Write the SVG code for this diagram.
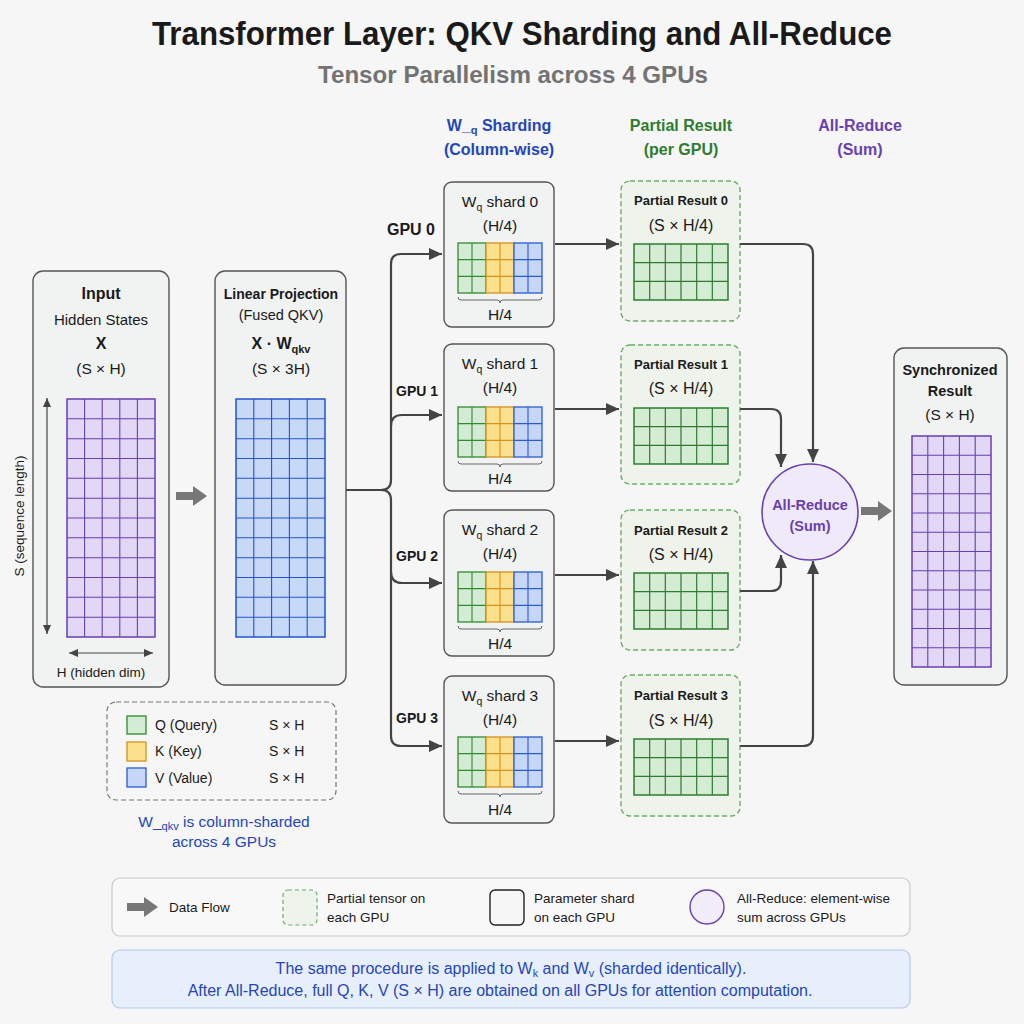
<svg xmlns="http://www.w3.org/2000/svg" width="1024" height="1024" viewBox="0 0 1024 1024">
<style>
text{font-family:"Liberation Sans",Arial,sans-serif;fill:#1a1a1a}
.b{font-weight:bold}
.c{text-anchor:middle}
.t14{font-size:14px}
.t15{font-size:15.5px}
.t13{font-size:13.5px}
.box{fill:#f1f2f2;stroke:#555;stroke-width:1.4}
.pbox{fill:#eef3ec;stroke:#6aae6a;stroke-width:1.4;stroke-dasharray:5 3}
.conn{fill:none;stroke:#444;stroke-width:2.2}
.thin{fill:none;stroke:#444;stroke-width:1.2}
.fat{fill:#777}
.blue{fill:#2546b8}
.green{fill:#2e7d2e}
.purple{fill:#6a3fb0}
</style>
<defs>
<marker id="ah" markerUnits="userSpaceOnUse" markerWidth="13" markerHeight="12" refX="13" refY="6" orient="auto">
<path d="M0,0 L13,6 L0,12 z" fill="#444"/>
</marker>
<marker id="sa" markerUnits="userSpaceOnUse" markerWidth="9" markerHeight="8" refX="9" refY="4" orient="auto-start-reverse">
<path d="M0,0 L9,4 L0,8 z" fill="#444"/>
</marker>
<path id="fatarrow" d="M0,-4 H17 V-10 L31,0 L17,10 V4 H0 Z"/>
<g id="shardgrid">
<rect x="0" y="0" width="28" height="50" fill="#d4ebd4" stroke="#2e8b2e" stroke-width="1.3"/>
<path d="M14,0 V50 M0,16.67 H28 M0,33.33 H28" stroke="#2e8b2e" stroke-width="1.1" fill="none"/>
<rect x="28" y="0" width="28" height="50" fill="#fce08c" stroke="#d4921e" stroke-width="1.3"/>
<path d="M42,0 V50 M28,16.67 H56 M28,33.33 H56" stroke="#d4921e" stroke-width="1.1" fill="none"/>
<rect x="56" y="0" width="28" height="50" fill="#c6d6f6" stroke="#2a5cd0" stroke-width="1.3"/>
<path d="M70,0 V50 M56,16.67 H84 M56,33.33 H84" stroke="#2a5cd0" stroke-width="1.1" fill="none"/>
<path d="M0,54 q0,3 3,3 h36 q3,0 3,3 q0,-3 3,-3 h36 q3,0 3,-3" fill="none" stroke="#666" stroke-width="1"/>
</g>
<g id="partgrid">
<rect x="0" y="0" width="94" height="56" fill="#d4ebd4" stroke="#2e7d2e" stroke-width="1.5"/>
<path d="M15.67,0V56 M31.33,0V56 M47,0V56 M62.67,0V56 M78.33,0V56 M0,18.67H94 M0,37.33H94" stroke="#2e7d2e" stroke-width="1.2" fill="none"/>
</g>
</defs>
<rect width="1024" height="1024" fill="#f6f6f6"/>

<g id="title">
<text x="522" y="45" class="b c" font-size="34" textLength="740" lengthAdjust="spacingAndGlyphs">Transformer Layer: QKV Sharding and All-Reduce</text>
<text x="513" y="83" class="b c" font-size="24" textLength="390" lengthAdjust="spacingAndGlyphs" style="fill:#737373">Tensor Parallelism across 4 GPUs</text>
</g>

<g id="headers" class="b c" font-size="16">
<text x="499" y="131" class="b c blue">W_<tspan font-size="11" dy="3">q</tspan><tspan dy="-3"> Sharding</tspan></text>
<text x="499" y="155" class="b c blue">(Column-wise)</text>
<text x="681" y="131" class="b c green">Partial Result</text>
<text x="681" y="155" class="b c green">(per GPU)</text>
<text x="860" y="131" class="b c purple">All-Reduce</text>
<text x="860" y="155" class="b c purple">(Sum)</text>
</g>

<g id="input">
<rect class="box" x="33" y="271" width="136" height="416" rx="10"/>
<text x="101" y="299" class="b c" font-size="16">Input</text>
<text x="101" y="325" class="c" font-size="15">Hidden States</text>
<text x="101" y="349" class="b c" font-size="16">X</text>
<text x="101" y="374" class="c t15">(S × H)</text>
<rect x="67" y="399" width="88" height="238" fill="#e2d7f5" stroke="#6a3fb0" stroke-width="1.5"/>
<path fill="none" stroke="#6a3fb0" stroke-width="1.1" d="M84.6,399V637M102.2,399V637M119.8,399V637M137.4,399V637M67,418.8H155M67,438.7H155M67,458.5H155M67,478.3H155M67,498.2H155M67,518H155M67,537.8H155M67,557.7H155M67,577.5H155M67,597.3H155M67,617.2H155"/>
<line class="thin" x1="47" y1="398" x2="47" y2="634" marker-start="url(#sa)" marker-end="url(#sa)"/>
<line class="thin" x1="69" y1="653" x2="153" y2="653" marker-start="url(#sa)" marker-end="url(#sa)"/>
<text x="101" y="677" class="c t13">H (hidden dim)</text>
<text transform="translate(24,516) rotate(-90)" class="c t13">S (sequence length)</text>
</g>

<g id="linear">
<rect class="box" x="215" y="271" width="131" height="414" rx="10"/>
<text x="281" y="299" class="b c t14">Linear Projection</text>
<text x="281" y="320" class="c" font-size="14.5">(Fused QKV)</text>
<text x="281" y="349" class="b c" font-size="16">X · W<tspan font-size="11" dy="4">qkv</tspan></text>
<text x="281" y="374" class="c t15">(S × 3H)</text>
<rect x="236" y="399" width="89" height="238" fill="#c8d8f7" stroke="#2255cc" stroke-width="1.5"/>
<path fill="none" stroke="#2255cc" stroke-width="1.1" d="M253.8,399V637M271.6,399V637M289.4,399V637M307.2,399V637M236,418.8H325M236,438.7H325M236,458.5H325M236,478.3H325M236,498.2H325M236,518H325M236,537.8H325M236,557.7H325M236,577.5H325M236,597.3H325M236,617.2H325"/>
</g>

<g id="gpu-labels" class="b">
<text x="387" y="235" font-size="16" class="b">GPU 0</text>
<text x="396" y="396" font-size="14" class="b">GPU 1</text>
<text x="396" y="561" font-size="14" class="b">GPU 2</text>
<text x="396" y="723" font-size="14" class="b">GPU 3</text>
</g>

<g id="shard0">
<rect class="box" x="444" y="182" width="110" height="145" rx="8"/>
<text x="500" y="207" class="c t15">W<tspan font-size="10.5" dy="4">q</tspan><tspan dy="-4"> shard 0</tspan></text>
<text x="500" y="231" class="c t15">(H/4)</text>
<use href="#shardgrid" x="458" y="243"/>
<text x="500" y="320" class="c t15">H/4</text>
</g>
<g id="shard1">
<rect class="box" x="444" y="344" width="110" height="147" rx="8"/>
<text x="500" y="369" class="c t15">W<tspan font-size="10.5" dy="4">q</tspan><tspan dy="-4"> shard 1</tspan></text>
<text x="500" y="393" class="c t15">(H/4)</text>
<use href="#shardgrid" x="458" y="407"/>
<text x="500" y="484" class="c t15">H/4</text>
</g>
<g id="shard2">
<rect class="box" x="444" y="510" width="110" height="146" rx="8"/>
<text x="500" y="535" class="c t15">W<tspan font-size="10.5" dy="4">q</tspan><tspan dy="-4"> shard 2</tspan></text>
<text x="500" y="559" class="c t15">(H/4)</text>
<use href="#shardgrid" x="458" y="572"/>
<text x="500" y="649" class="c t15">H/4</text>
</g>
<g id="shard3">
<rect class="box" x="444" y="676" width="110" height="147" rx="8"/>
<text x="500" y="701" class="c t15">W<tspan font-size="10.5" dy="4">q</tspan><tspan dy="-4"> shard 3</tspan></text>
<text x="500" y="725" class="c t15">(H/4)</text>
<use href="#shardgrid" x="458" y="737"/>
<text x="500" y="815" class="c t15">H/4</text>
</g>

<g id="partial0">
<rect class="pbox" x="621" y="181" width="119" height="140" rx="9"/>
<text x="681" y="205" class="b c" font-size="13">Partial Result 0</text>
<text x="681" y="231" class="c" font-size="16">(S × H/4)</text>
<use href="#partgrid" x="634" y="244"/>
</g>
<g id="partial1">
<rect class="pbox" x="621" y="345" width="119" height="139" rx="9"/>
<text x="681" y="369" class="b c" font-size="13">Partial Result 1</text>
<text x="681" y="394" class="c" font-size="16">(S × H/4)</text>
<use href="#partgrid" x="634" y="408"/>
</g>
<g id="partial2">
<rect class="pbox" x="621" y="510" width="119" height="140" rx="9"/>
<text x="681" y="535" class="b c" font-size="13">Partial Result 2</text>
<text x="681" y="560" class="c" font-size="16">(S × H/4)</text>
<use href="#partgrid" x="634" y="573"/>
</g>
<g id="partial3">
<rect class="pbox" x="621" y="675" width="119" height="141" rx="9"/>
<text x="681" y="700" class="b c" font-size="13">Partial Result 3</text>
<text x="681" y="726" class="c" font-size="16">(S × H/4)</text>
<use href="#partgrid" x="634" y="739"/>
</g>

<g id="allreduce">
<circle cx="810" cy="512" r="48" fill="#efeafa" stroke="#6a3fb0" stroke-width="1.6"/>
<text x="810" y="510" class="b c purple" font-size="14.5">All-Reduce</text>
<text x="810" y="531" class="b c purple" font-size="14.5">(Sum)</text>
</g>

<g id="sync">
<rect class="box" x="894" y="348" width="113" height="337" rx="10"/>
<text x="950" y="375" class="b c" font-size="14.5">Synchronized</text>
<text x="950" y="396" class="b c" font-size="14.5">Result</text>
<text x="950" y="420" class="c t15">(S × H)</text>
<rect x="912" y="436" width="79" height="231" fill="#e2d7f5" stroke="#6a3fb0" stroke-width="1.5"/>
<path fill="none" stroke="#6a3fb0" stroke-width="1.1" d="M927.8,436V667M943.6,436V667M959.4,436V667M975.2,436V667M912,455.25H991M912,474.5H991M912,493.75H991M912,513H991M912,532.25H991M912,551.5H991M912,570.75H991M912,590H991M912,609.25H991M912,628.5H991M912,647.75H991"/>
</g>

<g id="connectors">
<use href="#fatarrow" class="fat" x="176" y="496"/>
<use href="#fatarrow" class="fat" x="861" y="511"/>
<path class="conn" d="M346,490 H381 Q391,490 391,480 V264 Q391,254 401,254 H442" marker-end="url(#ah)"/>
<path class="conn" d="M381,490 Q391,490 391,500 V736 Q391,746 401,746 H442" marker-end="url(#ah)"/>
<path class="conn" d="M391,426 Q391,415 402,415 H442" marker-end="url(#ah)"/>
<path class="conn" d="M391,572 Q391,583 402,583 H442" marker-end="url(#ah)"/>
<path class="conn" d="M555,244 H619" marker-end="url(#ah)"/>
<path class="conn" d="M555,409 H619" marker-end="url(#ah)"/>
<path class="conn" d="M555,575 H619" marker-end="url(#ah)"/>
<path class="conn" d="M555,741 H619" marker-end="url(#ah)"/>
<path class="conn" d="M740,244 H803 Q813,244 813,254 V462" marker-end="url(#ah)"/>
<path class="conn" d="M740,409 H771 Q781,409 781,419 V467" marker-end="url(#ah)"/>
<path class="conn" d="M740,591 H771 Q781,591 781,581 V555" marker-end="url(#ah)"/>
<path class="conn" d="M740,746 H803 Q813,746 813,736 V561" marker-end="url(#ah)"/>
</g>

<g id="qkv-legend">
<rect x="107" y="702" width="229" height="98" rx="9" fill="none" stroke="#777" stroke-width="1.2" stroke-dasharray="5 3"/>
<rect x="127" y="716" width="19" height="18" fill="#d4ebd4" stroke="#2e8b2e" stroke-width="1.3"/>
<rect x="127" y="742" width="19" height="19" fill="#fce08c" stroke="#d4921e" stroke-width="1.3"/>
<rect x="127" y="768" width="19" height="19" fill="#c6d6f6" stroke="#2a5cd0" stroke-width="1.3"/>
<text x="155" y="730" class="t14">Q (Query)</text>
<text x="155" y="756" class="t14">K (Key)</text>
<text x="155" y="783" class="t14">V (Value)</text>
<text x="269" y="730" class="t14">S × H</text>
<text x="269" y="756" class="t14">S × H</text>
<text x="269" y="783" class="t14">S × H</text>
<text x="224" y="827" class="c blue" font-size="15.5">W_<tspan font-size="11" dy="3">qkv</tspan><tspan dy="-3"> is column-sharded</tspan></text>
<text x="224" y="847" class="c blue" font-size="15.5">across 4 GPUs</text>
</g>

<g id="legend">
<rect x="112" y="878" width="798" height="58" rx="8" fill="#f8f8f8" stroke="#c8c8c8" stroke-width="1.2"/>
<use href="#fatarrow" class="fat" x="127" y="907"/>
<text x="169" y="912" class="t13">Data Flow</text>
<rect x="283" y="890" width="34" height="35" rx="5" fill="#eef3ec" stroke="#6aae6a" stroke-width="1.2" stroke-dasharray="4 3"/>
<text x="327" y="903" class="t13">Partial tensor on</text>
<text x="327" y="922" class="t13">each GPU</text>
<rect x="490" y="890" width="34" height="35" rx="5" fill="#f6f6f6" stroke="#222" stroke-width="1.4"/>
<text x="534" y="903" class="t13">Parameter shard</text>
<text x="534" y="922" class="t13">on each GPU</text>
<circle cx="707" cy="907" r="17" fill="#f1edfb" stroke="#6a3fb0" stroke-width="1.4"/>
<text x="737" y="903" class="t13">All-Reduce: element-wise</text>
<text x="737" y="922" class="t13">sum across GPUs</text>
</g>

<g id="note">
<rect x="112" y="950" width="798" height="58" rx="8" fill="#e8effc" stroke="#b3c8ef" stroke-width="1.2"/>
<text x="511" y="974" class="c blue" font-size="16">The same procedure is applied to W<tspan font-size="11" dy="3">k</tspan><tspan dy="-3"> and W</tspan><tspan font-size="11" dy="3">v</tspan><tspan dy="-3"> (sharded identically).</tspan></text>
<text x="500" y="996" class="c blue" font-size="16">After All-Reduce, full Q, K, V (S × H) are obtained on all GPUs for attention computation.</text>
</g>
</svg>
